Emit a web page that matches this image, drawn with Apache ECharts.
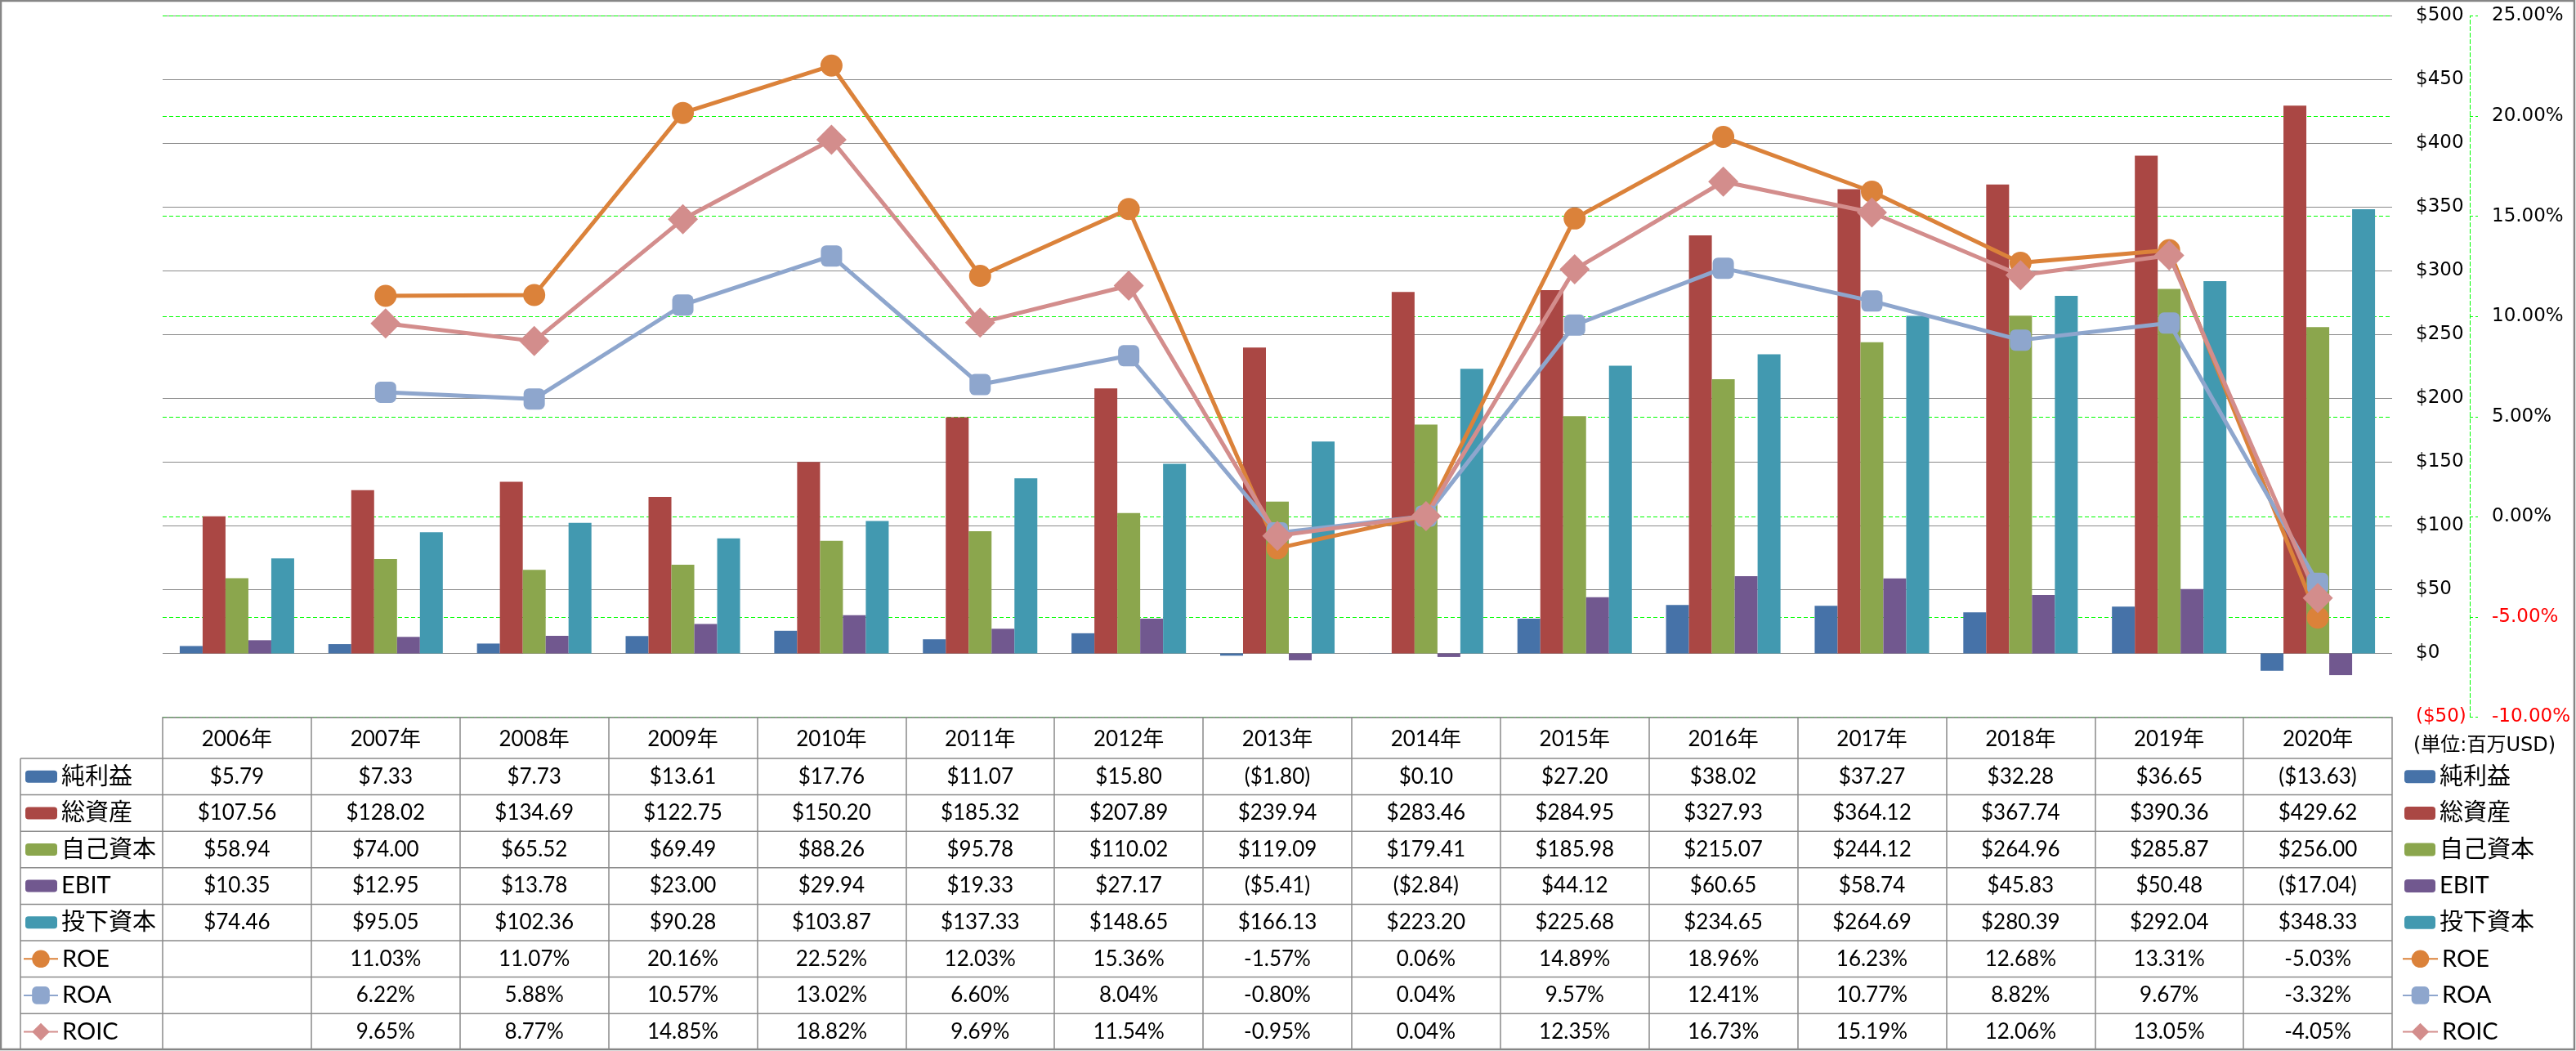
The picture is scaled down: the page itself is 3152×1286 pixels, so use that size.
<!DOCTYPE html>
<html>
<head>
<meta charset="utf-8">
<script src="https://cdn.jsdelivr.net/npm/echarts@6/dist/echarts.min.js"></script>
<style>html,body{margin:0;padding:0;background:#fff}#c{width:3152px;height:1286px}</style>
</head>
<body>
<div id="c"></div>
<script>
// ---- data ----
const years = ['2006年','2007年','2008年','2009年','2010年','2011年','2012年','2013年','2014年','2015年','2016年','2017年','2018年','2019年','2020年'];
const netIncome   = [5.79, 7.33, 7.73, 13.61, 17.76, 11.07, 15.80, -1.80, 0.10, 27.20, 38.02, 37.27, 32.28, 36.65, -13.63];
const totalAssets = [107.56, 128.02, 134.69, 122.75, 150.20, 185.32, 207.89, 239.94, 283.46, 284.95, 327.93, 364.12, 367.74, 390.36, 429.62];
const equity      = [58.94, 74.00, 65.52, 69.49, 88.26, 95.78, 110.02, 119.09, 179.41, 185.98, 215.07, 244.12, 264.96, 285.87, 256.00];
const ebit        = [10.35, 12.95, 13.78, 23.00, 29.94, 19.33, 27.17, -5.41, -2.84, 44.12, 60.65, 58.74, 45.83, 50.48, -17.04];
const investedCap = [74.46, 95.05, 102.36, 90.28, 103.87, 137.33, 148.65, 166.13, 223.20, 225.68, 234.65, 264.69, 280.39, 292.04, 348.33];
const roe  = [null, 11.03, 11.07, 20.16, 22.52, 12.03, 15.36, -1.57, 0.06, 14.89, 18.96, 16.23, 12.68, 13.31, -5.03];
const roa  = [null, 6.22, 5.88, 10.57, 13.02, 6.60, 8.04, -0.80, 0.04, 9.57, 12.41, 10.77, 8.82, 9.67, -3.32];
const roic = [null, 9.65, 8.77, 14.85, 18.82, 9.69, 11.54, -0.95, 0.04, 12.35, 16.73, 15.19, 12.06, 13.05, -4.05];
const barNames  = ['純利益','総資産','自己資本','EBIT','投下資本'];
const lineNames = ['ROE','ROA','ROIC'];
const unitLabel = '(単位:百万USD)';

// ---- style ----
const barColors  = ['#4672A8','#AA4744','#8BA64D','#71588F','#4299B0'];
const lineColors = ['#DB823A','#8EA6CD','#D38D8C'];
const symbols    = ['circle','roundRect','diamond'];
const symSizes   = [27, 26, 37];
const TF = 'Lato, "Noto Sans CJK JP", sans-serif';
const AF = '"DejaVu Sans", Verdana, sans-serif';
const GRID = '#8a8a8a';
const rowTop = 928, rowH = 44.6;

const barData = [netIncome, totalAssets, equity, ebit, investedCap];
const lineData = [roe, roa, roic];

const chart = echarts.init(document.getElementById('c'), null, {renderer: 'canvas'});

function legendCfg(names, left, top, w, h) {
  return {
    data: names, orient: 'vertical', left: left, top: top, padding: 0,
    itemWidth: w, itemHeight: h, itemGap: 0, selectedMode: false,
    textStyle: {fontSize: 29, lineHeight: rowH, fontFamily: TF, color: '#000'}
  };
}

const series = [];
barNames.forEach((n, i) => series.push({
  name: n, type: 'bar', data: barData[i], barGap: '0%', barCategoryGap: '23%',
  itemStyle: {color: barColors[i]}, yAxisIndex: 0
}));
lineNames.forEach((n, i) => series.push({
  name: n, type: 'line', data: lineData[i], yAxisIndex: 1,
  symbol: symbols[i], symbolSize: symSizes[i], showAllSymbol: true,
  itemStyle: {color: lineColors[i]}, lineStyle: {color: lineColors[i], width: 5},
  z: 5
}));

chart.setOption({
  animation: false,
  backgroundColor: '#fff',
  grid: {left: 199, right: 225, top: 19.5, bottom: 408.5, containLabel: false, outerBoundsMode: 'none'},
  legend: [
    legendCfg(barNames, 31, rowTop, 39, 15),
    legendCfg(lineNames, 28, rowTop + 5 * rowH, 42, 27),
    legendCfg(barNames, 2942, rowTop, 38, 16),
    legendCfg(lineNames, 2939, rowTop + 5 * rowH, 43, 27)
  ],
  xAxis: {
    type: 'category', data: years, boundaryGap: true,
    axisLine: {onZero: false, lineStyle: {color: GRID, width: 1.5}},
    axisTick: {show: true, alignWithLabel: false, interval: 0, length: 407, lineStyle: {color: GRID, width: 1.5}},
    axisLabel: {interval: 0, margin: 27, verticalAlign: 'middle', fontSize: 26, fontFamily: TF, color: '#000'},
    splitLine: {show: false}
  },
  yAxis: [
    {
      type: 'value', min: -50, max: 500, interval: 50, position: 'right', offset: 0,
      axisLine: {show: false}, axisTick: {show: false},
      axisLabel: {
        margin: 29, align: 'left', fontSize: 23, fontFamily: AF, color: '#000',
        formatter: v => v < 0 ? '{neg|($' + Math.abs(v) + ')}' : '$' + v,
        rich: {neg: {color: '#FF0000', fontSize: 23, fontFamily: AF}}
      },
      splitLine: {show: true, lineStyle: {color: GRID, width: 1}}
    },
    {
      type: 'value', min: -10, max: 25, interval: 5, position: 'right', offset: 95,
      axisLine: {show: true, lineStyle: {color: '#00FF00', width: 1, type: [5, 3]}},
      axisTick: {show: true, inside: false, length: 10, lineStyle: {color: '#00FF00', width: 1, type: [4, 3]}},
      axisLabel: {
        margin: 27, align: 'left', fontSize: 23, fontFamily: AF, color: '#000',
        formatter: v => { const s = v.toFixed(2) + '%'; return v < 0 ? '{neg|' + s + '}' : s; },
        rich: {neg: {color: '#FF0000', fontSize: 23, fontFamily: AF}}
      },
      splitLine: {show: true, lineStyle: {color: '#00FF00', width: 1, type: [5, 3]}}
    }
  ],
  series: series
});

// ---- data table drawn from the arrays, positioned by the category axis ----
function money(v) { return v < 0 ? '($' + Math.abs(v).toFixed(2) + ')' : '$' + v.toFixed(2); }
function pct(v) { return v === null ? '' : v.toFixed(2) + '%'; }
const rows = barData.map(a => a.map(money)).concat(lineData.map(a => a.map(pct)));
const gridRight = 2927;
const els = [];
rows.forEach((r, ri) => {
  const cy = rowTop + rowH * (ri + 0.5);
  r.forEach((t, ci) => {
    const cx = chart.convertToPixel({xAxisIndex: 0}, years[ci]);
    if (t) els.push({type: 'text', x: cx, y: cy, silent: true,
      style: {text: t, align: 'center', verticalAlign: 'middle', fontSize: 26, fontFamily: TF, fill: '#000'}});
  });
});
for (let k = 0; k < rows.length; k++) {
  const y = rowTop + rowH * k;
  els.push({type: 'line', silent: true, shape: {x1: 25, y1: y, x2: gridRight, y2: y}, style: {stroke: GRID, lineWidth: 1.5}});
}
els.push({type: 'line', silent: true, shape: {x1: 25, y1: rowTop, x2: 25, y2: 1285}, style: {stroke: GRID, lineWidth: 1.5}});
els.push({type: 'text', x: 3040, y: 913, silent: true,
  style: {text: unitLabel, align: 'center', verticalAlign: 'middle', fontSize: 24, fontFamily: '"DejaVu Sans", "Noto Sans CJK JP", sans-serif', fill: '#000'}});
els.push({type: 'rect', silent: true, shape: {x: 1, y: 1, width: 3149, height: 1283},
  style: {fill: 'none', stroke: '#868686', lineWidth: 2.5}});
chart.setOption({graphic: {elements: els}});
</script>
</body>
</html>
